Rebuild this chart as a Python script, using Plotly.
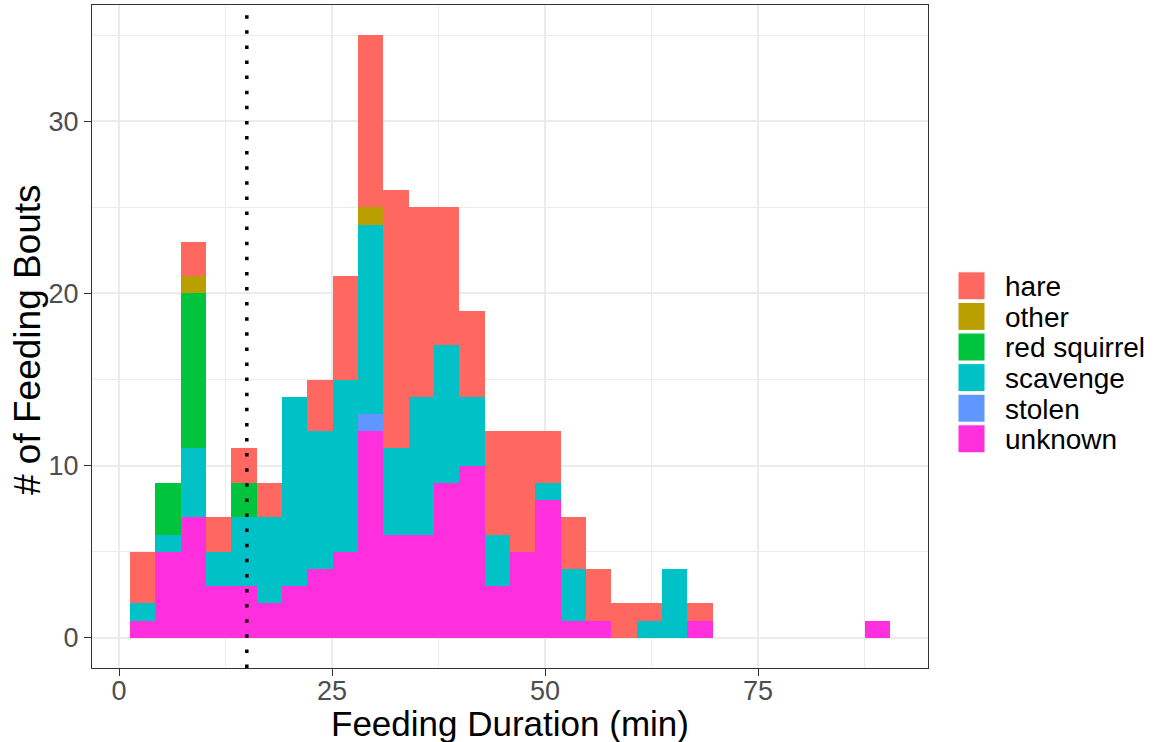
import plotly.graph_objects as go

# ---------------- data ----------------
categories = ["hare", "other", "red squirrel", "scavenge", "stolen", "unknown"]
colors = {
    "hare": "#FF6860",
    "other": "#B9A000",
    "red squirrel": "#00C43C",
    "scavenge": "#00C2C6",
    "stolen": "#5F96FF",
    "unknown": "#FF2FDD",
}

# 30 histogram bins (counts per bin)
unknown      = [1, 5, 7, 3, 3, 2, 3, 4, 5, 12, 6, 6, 9, 10, 3, 5, 8, 1, 1, 0, 0, 0, 1, 0, 0, 0, 0, 0, 0, 1]
stolen       = [0, 0, 0, 0, 0, 0, 0, 0, 0, 1, 0, 0, 0, 0, 0, 0, 0, 0, 0, 0, 0, 0, 0, 0, 0, 0, 0, 0, 0, 0]
scavenge     = [1, 1, 4, 2, 4, 5, 11, 8, 10, 11, 5, 8, 8, 4, 3, 0, 1, 3, 0, 0, 1, 4, 0, 0, 0, 0, 0, 0, 0, 0]
red_squirrel = [0, 3, 9, 0, 2, 0, 0, 0, 0, 0, 0, 0, 0, 0, 0, 0, 0, 0, 0, 0, 0, 0, 0, 0, 0, 0, 0, 0, 0, 0]
other        = [0, 0, 1, 0, 0, 0, 0, 0, 0, 1, 0, 0, 0, 0, 0, 0, 0, 0, 0, 0, 0, 0, 0, 0, 0, 0, 0, 0, 0, 0]
hare         = [3, 0, 2, 2, 2, 2, 0, 3, 6, 10, 15, 11, 8, 5, 6, 7, 3, 3, 3, 2, 1, 0, 1, 0, 0, 0, 0, 0, 0, 0]

series = {
    "unknown": unknown,
    "stolen": stolen,
    "scavenge": scavenge,
    "red squirrel": red_squirrel,
    "other": other,
    "hare": hare,
}

BIN_START = 1.29
BIN_WIDTH = 2.973
N_BINS = len(unknown)
threshold = 15

x_ticks = [0, 25, 50, 75]
y_ticks = [0, 10, 20, 30]

# ---------------- derived ----------------
centers = [BIN_START + BIN_WIDTH * (i + 0.5) for i in range(N_BINS)]
totals = [sum(series[c][i] for c in series) for i in range(N_BINS)]
x_lo, x_hi = BIN_START, BIN_START + BIN_WIDTH * N_BINS
xpad = 0.05 * (x_hi - x_lo)
ymax = max(totals)
ypad = 0.05 * ymax

FONT = "Liberation Sans, Arial, Helvetica, sans-serif"

# plot area in pixels
W, H = 1155, 742
L, R, T, B = 92, 928, 5, 668


def px(xp):
    return (xp - L) / (R - L)


def py(yp):
    return (B - yp) / (B - T)


fig = go.Figure()
for name in ["unknown", "stolen", "scavenge", "red squirrel", "other", "hare"]:
    fig.add_trace(go.Bar(
        x=centers, y=series[name], width=BIN_WIDTH, name=name,
        marker=dict(color=colors[name], line=dict(width=0)),
        showlegend=False,
    ))

fig.add_shape(type="line", xref="x", yref="paper", x0=threshold, x1=threshold,
              y0=0, y1=1, line=dict(color="black", width=3.5, dash="3.5px,11.6px"),
              layer="above")

# manual legend (ggplot style keys)
for i, name in enumerate(categories):
    cy = 285.8 + 30.6 * i
    fig.add_shape(type="rect", xref="paper", yref="paper",
                  x0=px(958), x1=px(985), y0=py(cy - 14), y1=py(cy + 14),
                  fillcolor=colors[name], line=dict(color="white", width=1))
    fig.add_annotation(xref="paper", yref="paper", x=px(1003), y=py(cy + 1),
                       text=name, showarrow=False, xanchor="left", yanchor="middle",
                       font=dict(family=FONT, size=28, color="black"))

# axis titles
fig.add_annotation(xref="paper", yref="paper", x=0.5, y=py(723),
                   text="Feeding Duration (min)", showarrow=False,
                   xanchor="center", yanchor="middle",
                   font=dict(family=FONT, size=35, color="black"))
fig.add_annotation(xref="paper", yref="paper", x=px(27), y=py(340),
                   text="# of Feeding Bouts", showarrow=False, textangle=-90,
                   xanchor="center", yanchor="middle",
                   font=dict(family=FONT, size=37, color="black"))

axis_common = dict(
    showline=True, mirror=True, linecolor="#333333", linewidth=1,
    ticks="outside", ticklen=7, tickwidth=1, tickcolor="#333333",
    tickfont=dict(family=FONT, size=27, color="#4D4D4D"),
    showgrid=True, gridcolor="#EBEBEB", gridwidth=1.6, zeroline=False,
)

fig.update_layout(
    width=W, height=H,
    margin=dict(l=L, r=W - R, t=T, b=H - B, pad=0),
    paper_bgcolor="white", plot_bgcolor="white",
    barmode="stack", bargap=0,
    xaxis=dict(range=[x_lo - xpad, x_hi + xpad], tickmode="array",
               tickvals=x_ticks, ticktext=[str(v) for v in x_ticks],
               ticklabelstandoff=-8,
               minor=dict(tickmode="array",
                          tickvals=[(a + b) / 2 for a, b in zip(x_ticks, x_ticks[1:] + [100])],
                          showgrid=True, gridcolor="#EBEBEB", gridwidth=0.8, ticks=""),
               **axis_common),
    yaxis=dict(range=[-ypad, ymax + ypad], tickmode="array",
               tickvals=y_ticks, ticktext=[str(v) for v in y_ticks],
               minor=dict(tickmode="array",
                          tickvals=[v + 5 for v in y_ticks],
                          showgrid=True, gridcolor="#EBEBEB", gridwidth=0.8, ticks=""),
               **axis_common),
)

fig.write_html("out.html")
